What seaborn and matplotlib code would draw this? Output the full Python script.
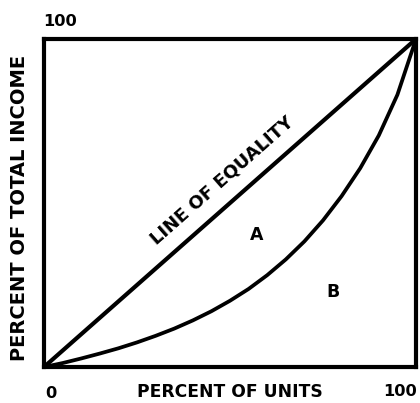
import matplotlib
matplotlib.use('Agg')
import matplotlib.pyplot as plt
import seaborn as sns
import pandas as pd

# Curva de Lorenz (cada 5 %)
pct_units = [0, 5, 10, 15, 20, 25, 30, 35, 40, 45, 50,
             55, 60, 65, 70, 75, 80, 85, 90, 95, 100]
pct_income = [0, 1.2, 2.6, 4.1, 5.7, 7.5, 9.5, 11.7, 14.2, 17.0, 20.2,
              23.8, 28.0, 32.8, 38.3, 44.7, 52.1, 60.6, 70.6, 83.0, 100]
equality = [0, 100]

sns.set_style('white')
plt.rcParams['font.family'] = ['DejaVu Sans']
plt.rcParams['text.color'] = 'black'

W, H = 420, 403
fig = plt.figure(figsize=(W / 100, H / 100), dpi=100)
ax = fig.add_axes([44 / W, 36 / H, 372 / W, 328 / H])

df = pd.DataFrame({'x': pct_units, 'y': pct_income})
sns.lineplot(data=df, x='x', y='y', ax=ax, color='black', linewidth=2.7,
             sort=False, clip_on=False)
sns.lineplot(x=equality, y=equality, ax=ax, color='black', linewidth=3,
             clip_on=False)

ax.set_xlim(0, 100)
ax.set_ylim(0, 100)
ax.set_xticks([])
ax.set_yticks([])
ax.set_xlabel('')
ax.set_ylabel('')
for s in ax.spines.values():
    s.set_color('black')
    s.set_linewidth(3)

# angulo de la diagonal en pantalla
ang = 41.4
ax.text(47.8, 57.0, 'LINE OF EQUALITY', rotation=ang, rotation_mode='anchor',
        ha='center', va='center', fontsize=13, fontweight='bold', color='black')
ax.text(57.3, 40.2, 'A', ha='center', va='center', fontsize=12.5, fontweight='bold', color='black')
ax.text(77.7, 22.9, 'B', ha='center', va='center', fontsize=12.5, fontweight='bold', color='black')

def px(x, y):
    return x / W, 1 - y / H

kw = dict(ha='center', va='center', fontweight='bold', color='black')
fig.text(*px(60, 21), '100', fontsize=11.7, **kw)
fig.text(*px(51, 394), '0', fontsize=11.7, **kw)
fig.text(*px(400, 392), '100', fontsize=11.7, **kw)
fig.text(*px(230, 392), 'PERCENT OF UNITS', fontsize=12.3, **kw)
fig.text(*px(20, 208), 'PERCENT OF TOTAL INCOME', rotation=90, fontsize=14, **kw)

fig.savefig('out.png', dpi=100, facecolor='white')
